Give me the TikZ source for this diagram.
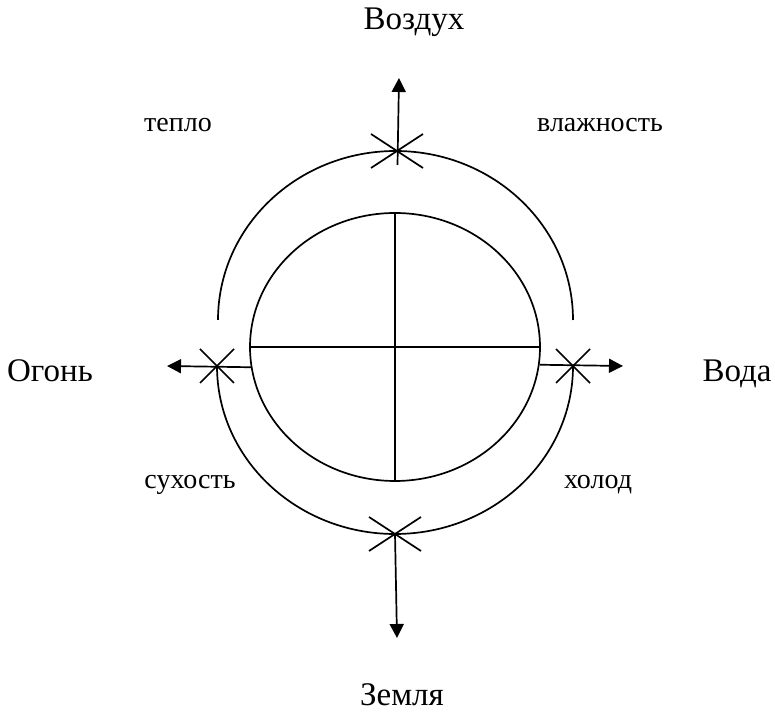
\documentclass[tikz,border=0pt]{standalone}
\usepackage{fontspec}
\setmainfont{Liberation Serif}
\usetikzlibrary{positioning}
\usetikzlibrary{shapes.geometric}
\usetikzlibrary{arrows.meta}
\newcommand{\starcross}[3]{\draw[line] ([shift={(-#2,-#3)}]#1) -- ([shift={(#2,#3)}]#1);
  \draw[line] ([shift={(-#2,#3)}]#1) -- ([shift={(#2,-#3)}]#1);}
\begin{document}
\begin{tikzpicture}[x=1pt,y=1pt,
  line/.style={line width=1.7pt},
  arr/.style={line,-{Triangle[length=14pt,width=14pt]}},
  big/.style={font=\fontsize{33}{40}\selectfont,anchor=base,inner sep=0pt},
  small/.style={font=\fontsize{28}{34}\selectfont,anchor=base,inner sep=0pt}]
\useasboundingbox (0,0) rectangle (775,714);
% inner ellipse with cross
\node[draw,line,ellipse,minimum width=290pt,minimum height=268pt,inner sep=0pt] (core) at (395,367) {};
\draw[line] (core.north) -- (core.south);
\draw[line] (core.west) -- (core.east);
% crossing points
\coordinate (airX) at (397,563);
\coordinate (fireX) at (217,348);
\coordinate (waterX) at (573,348);
\coordinate (earthX) at (395,180);
\coordinate (airS) at (397.5,549);
\coordinate (airTip) at (399,636);
\coordinate (fireTip) at (167,348);
\coordinate (waterTip) at (623,348);
\coordinate (earthTip) at (397,76);
% outer arcs
\draw[line] (218,394) arc[start angle=180,end angle=0,x radius=177.5,y radius=169];
\draw[line] (fireX) arc[start angle=180,end angle=360,x radius=178,y radius=168];
\starcross{airX}{26}{17}
\starcross{earthX}{26}{17}
\starcross{fireX}{17}{17}
\starcross{waterX}{17}{17}
% arrows
\draw[arr] (airS) -- (airTip);
\draw[arr] (earthX) -- (earthTip);
\draw[arr] (core.-172.5) -- (fireTip);
\draw[arr] (core.-7.5) -- (waterTip);
% labels
\node[big] (air) at (414,684) {Воздух};
\node[big] (fire) at (50,332) {Огонь};
\node[big] (water) at (737,332) {Вода};
\node[big] (earth) at (402,9) {Земля};
\node[small] (heat) at (178,582) {тепло};
\node[small] (moist) at (600,582) {влажность};
\node[small] (dry) at (190,225) {сухость};
\node[small] (cold) at (598,225) {холод};
\end{tikzpicture}
\end{document}
